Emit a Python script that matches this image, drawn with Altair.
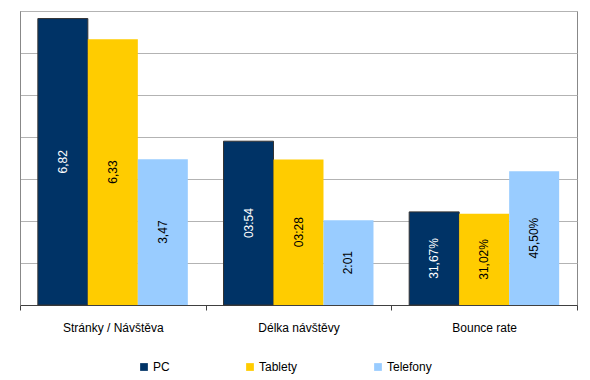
import altair as alt
import pandas as pd

categories = ["Stránky / Návštěva", "Délka návštěvy", "Bounce rate"]
series = ["PC", "Tablety", "Telefony"]
pc_heights = [6.82, 3.90, 2.217]
tablety_heights = [6.33, 3.467, 2.171]
telefony_heights = [3.47, 2.017, 3.185]
pc_labels = ["6,82", "03:54", "31,67%"]
tablety_labels = ["6,33", "03:28", "31,02%"]
telefony_labels = ["3,47", "2:01", "45,50%"]
colors = ["#003366", "#FFCC00", "#99CCFF"]

rows = []
for s, hs, ls in [("PC", pc_heights, pc_labels), ("Tablety", tablety_heights, tablety_labels),
                  ("Telefony", telefony_heights, telefony_labels)]:
    for c, h, l in zip(categories, hs, ls):
        rows.append({"cat": c, "series": s, "value": h, "label": l})
df = pd.DataFrame(rows)

FONT = "Liberation Sans"

x_enc = alt.X("cat:N", sort=categories, title=None,
              scale=alt.Scale(paddingInner=0, paddingOuter=0),
              axis=alt.Axis(labelAngle=0, tickBand="extent", domainColor="#404040",
                            tickColor="#404040", tickSize=5, labelPadding=12,
                            labelFontSize=12, labelColor="#000000", labelFont=FONT, grid=False))
xoff = alt.XOffset("series:N", sort=series, scale=alt.Scale(paddingInner=0, paddingOuter=0.357))

base = alt.Chart(df)

bars = base.mark_bar().encode(
    x=x_enc,
    xOffset=xoff,
    y=alt.Y("value:Q", scale=alt.Scale(domain=[0, 7], nice=False), title=None,
            axis=alt.Axis(values=[0, 1, 2, 3, 4, 5, 6, 7], labels=False, ticks=False,
                          domainColor="#888888", gridColor="#b3b3b3")),
    color=alt.Color("series:N", sort=series, scale=alt.Scale(domain=series, range=colors),
                    legend=alt.Legend(title=None, orient="none", direction="horizontal",
                                      legendX=118, legendY=350, symbolType="square",
                                      symbolSize=60, symbolStrokeWidth=0, columnPadding=74,
                                      labelFontSize=12, labelFont=FONT, labelColor="#000000",
                                      labelOffset=3)),
    stroke=alt.condition(alt.datum.series == "PC", alt.value("#333333"), alt.value(None)),
    strokeWidth=alt.value(1),
)

text = base.transform_calculate(mid="datum.value / 2").mark_text(
    angle=270, fontSize=12, font=FONT, baseline="middle", align="center"
).encode(
    x=alt.X("cat:N", sort=categories),
    xOffset=xoff,
    y=alt.Y("mid:Q"),
    text="label:N",
    color=alt.condition(alt.datum.series == "PC", alt.value("white"), alt.value("black")),
)

chart = alt.layer(bars, text).properties(
    width=557, height=294,
    autosize=alt.AutoSizeParams(type="none"),
    padding={"left": 12, "top": 3, "right": 5, "bottom": 70},
).configure_view(stroke="#888888", strokeWidth=1)

chart.save("out.html", embed_options={"renderer": "svg", "actions": False})
